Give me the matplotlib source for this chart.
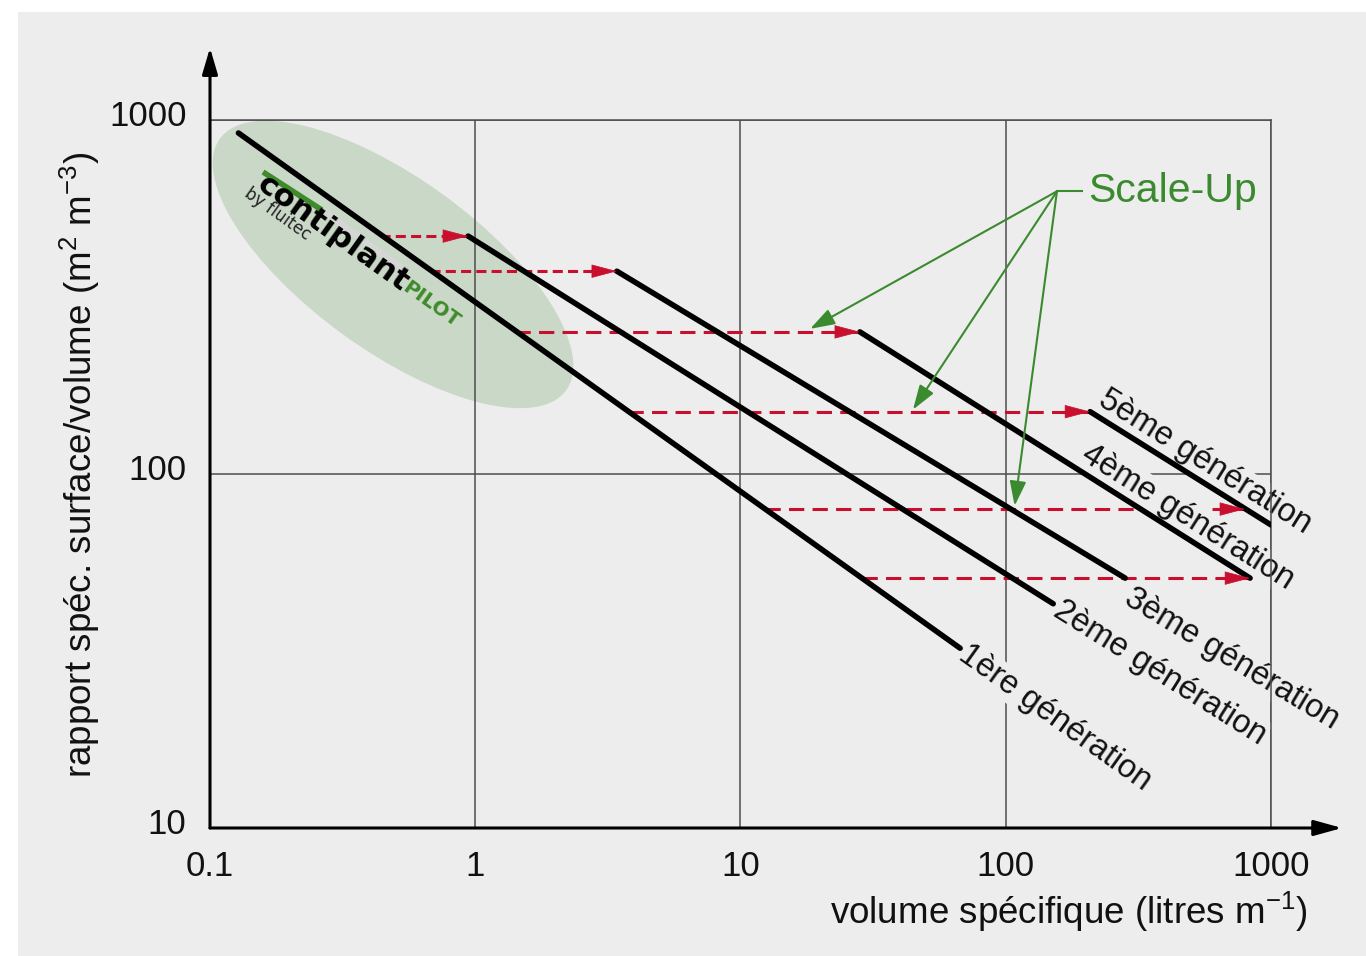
import numpy as np
import matplotlib
matplotlib.use('Agg')
import matplotlib.pyplot as plt
import matplotlib.transforms as mtransforms
from matplotlib.patches import Ellipse, Rectangle
from matplotlib.ticker import NullLocator

plt.rcParams['font.family'] = ['Liberation Sans', 'DejaVu Sans']
plt.rcParams['mathtext.fontset'] = 'custom'
plt.rcParams['mathtext.rm'] = 'Liberation Sans'
plt.rcParams['mathtext.it'] = 'Liberation Sans:italic'
plt.rcParams['mathtext.bf'] = 'Liberation Sans:bold'

# --- data ---
gen_labels = ['1ère génération', '2ème génération', '3ème génération',
              '4ème génération', '5ème génération']
gen_x_start = [0.128, 0.94, 3.42, 28.2, 208]
gen_y_start = [919, 470, 374, 252, 150]
gen_x_end = [67.3, 151, 282, 834, 1000]
gen_y_end = [32.2, 43.0, 50.8, 50.8, 71.8]

# red scale-up arrows (horizontal)
arrow_y = [470, 374, 252, 150, 79.6, 50.8]
arrow_x_from = [0.437, 0.675, 1.41, 3.77, 12.4, 28.7]
arrow_x_to = [0.939, 3.42, 28.2, 208, 798, 834]

# green "Scale-Up" pointers
scale_origin = (156, 629)
scale_tips_x = [18.3, 44.7, 108]
scale_tips_y = [257, 152, 81.3]

x_ticks = [0.1, 1, 10, 100, 1000]
x_ticklabels = ['0.1', '1', '10', '100', '1000']
y_ticks = [10, 100, 1000]
y_ticklabels = ['10', '100', '1000']

# label centres (data coords)
label_x = [153.5, 381.5, 713, 486, 564]
label_y = [20.5, 27.4, 30.0, 75.6, 108]

bg = '#ededed'
red = '#c8102e'
green = '#3b8a2f'
gridc = '#4d4d4d'

fig = plt.figure(figsize=(13.66, 9.56), dpi=100)
fig.patch.set_facecolor('white')
fig.patches.append(Rectangle((0.0132, 0), 0.9868, 0.9874, transform=fig.transFigure,
                             facecolor=bg, edgecolor='none', zorder=-10))

ax = fig.add_axes([0.15373, 0.13389, 0.77672, 0.74059])
ax.set_facecolor('none')
ax.set_xscale('log')
ax.set_yscale('log')
ax.set_xlim(0.1, 1000)
ax.set_ylim(10, 1000)
ax.xaxis.set_minor_locator(NullLocator())
ax.yaxis.set_minor_locator(NullLocator())
ax.set_xticks(x_ticks, x_ticklabels)
ax.set_yticks(y_ticks, y_ticklabels)
ax.tick_params(length=0, labelsize=25, colors='#111111')
ax.tick_params(axis='x', pad=16)
ax.tick_params(axis='y', pad=17)
shift = mtransforms.ScaledTranslation(0, 0.07, fig.dpi_scale_trans)
for lab in ax.get_yticklabels():
    lab.set_transform(lab.get_transform() + shift)

ax.set_axisbelow(True)
ax.grid(True, color=gridc, lw=1.1)
for s in ['top', 'right']:
    ax.spines[s].set_color(gridc)
    ax.spines[s].set_linewidth(1.1)
for s in ['left', 'bottom']:
    ax.spines[s].set_visible(False)

# axis arrows
ax.annotate('', xy=(0, 1.102), xytext=(0, 0), xycoords='axes fraction',
            arrowprops=dict(arrowstyle='-|>,head_length=1.6,head_width=0.47',
                            color='black', lw=2.2, shrinkA=0, shrinkB=0),
            annotation_clip=False)
ax.annotate('', xy=(1.067, 0), xytext=(0, 0), xycoords='axes fraction',
            arrowprops=dict(arrowstyle='-|>,head_length=1.7,head_width=0.47',
                            color='black', lw=2.2, shrinkA=0, shrinkB=0),
            annotation_clip=False)

# green ellipse
ell_tr = fig.dpi_scale_trans + mtransforms.ScaledTranslation(0.4898, 390.7, ax.transData)
ax.add_patch(Ellipse((0, 0), 4.28, 1.72, angle=-36, transform=ell_tr,
                     facecolor='#cad8c8', edgecolor='none', zorder=0.3))

# generation lines
angles = []
for i in range(len(gen_labels)):
    ax.plot([gen_x_start[i], gen_x_end[i]], [gen_y_start[i], gen_y_end[i]],
            color='black', lw=4, solid_capstyle='round', zorder=3)
    p0 = ax.transData.transform((gen_x_start[i], gen_y_start[i]))
    p1 = ax.transData.transform((gen_x_end[i], gen_y_end[i]))
    angles.append(np.degrees(np.arctan2(p1[1] - p0[1], p1[0] - p0[0])))
    ax.text(label_x[i], label_y[i], gen_labels[i], rotation=angles[i],
            rotation_mode='anchor', ha='center', va='center', fontsize=23.5,
            color='#111111', zorder=2.5,
            bbox=dict(facecolor=bg, edgecolor='none', pad=1))

# red dashed arrows
for i in range(len(arrow_y)):
    dash = (3.3, 1.7) if i < 2 else (5, 2.7)
    ax.plot([arrow_x_from[i], arrow_x_to[i]], [arrow_y[i], arrow_y[i]],
            color=red, lw=2.2, dashes=dash, zorder=2)
    ax.annotate('', xy=(arrow_x_to[i], arrow_y[i]), xytext=(-17, 0),
                textcoords='offset points',
                arrowprops=dict(arrowstyle='-|>,head_length=1.7,head_width=0.45',
                                color=red, lw=0.5, shrinkA=0, shrinkB=0),
                zorder=4)

# Scale-Up pointers
ax.plot([scale_origin[0], 194], [scale_origin[1], scale_origin[1]], color=green, lw=1.5, zorder=4)
for tx, ty in zip(scale_tips_x, scale_tips_y):
    ax.annotate('', xy=(tx, ty), xytext=scale_origin,
                arrowprops=dict(arrowstyle='-|>,head_length=1.5,head_width=0.5',
                                color=green, lw=1.5, shrinkA=0, shrinkB=0),
                zorder=4)
ax.text(204, scale_origin[1], 'Scale-Up', color=green, fontsize=29.5,
        ha='left', va='center', zorder=4)

# logo
a1 = angles[0]
ax.plot([0.1585, 0.264], [713, 557], color='#3f8a2a', lw=4, solid_capstyle='butt', zorder=1.2)
ax.plot([0.264, 0.558], [557, 370], color='#d6d6d6', lw=4.8, solid_capstyle='butt', zorder=1.2)
ax.text(0.291, 480, 'contiplant', rotation=a1, rotation_mode='anchor',
        ha='center', va='center', fontsize=22.5, fontweight='heavy',
        family='DejaVu Sans', color='black', zorder=1.5)
ax.text(0.68, 302, 'PILOT', rotation=a1, rotation_mode='anchor',
        ha='center', va='center', fontsize=14.5, fontweight='bold',
        family='DejaVu Sans', color='#3f8a2a', zorder=1.5)
ax.text(0.1805, 543, 'by fluitec', rotation=a1, rotation_mode='anchor',
        ha='center', va='center', fontsize=12, family='DejaVu Sans',
        color='#222222', zorder=1.5)

# axis titles
fig.text(0.0585, 0.5136, 'rapport spéc. surface/volume (m$^2$ m$^{-3}$)',
         rotation=90, ha='center', va='center', fontsize=26.5, color='#111111')
fig.text(0.9575, 0.046, 'volume spécifique (litres m$^{-1}$)',
         ha='right', va='center', fontsize=26.5, color='#111111')

fig.savefig('out.png', dpi=100, facecolor=fig.get_facecolor())
